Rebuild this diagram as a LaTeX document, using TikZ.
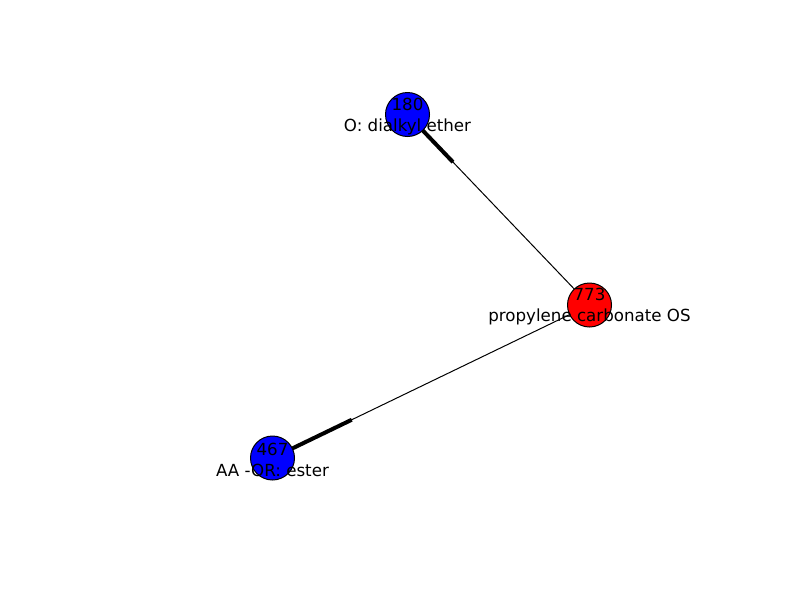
\documentclass[tikz,border=0pt]{standalone}
\usepackage{fontspec}
\setmainfont{DejaVu Sans}
\usetikzlibrary{calc}
\begin{document}
\begin{tikzpicture}[x=1pt,y=-1pt,
  vert/.style={circle,draw=black,line width=1pt,minimum size=44pt,inner sep=0pt},
  lbl/.style={align=center,inner sep=0pt,yshift=-2pt,font=\fontsize{16.67}{21}\selectfont},
  thinedge/.style={draw=black,line width=1pt},
  thickedge/.style={draw=black,line width=4pt}]
\useasboundingbox (0,0) rectangle (800,600);
\coordinate (c180) at (407.5,114.5);
\coordinate (c773) at (589.5,305);
\coordinate (c467) at (272.5,458);
\draw[thinedge] (c180) -- (c773);
\draw[thinedge] (c467) -- (c773);
\draw[thickedge] (c180) -- ($(c180)!0.25!(c773)$);
\draw[thickedge] (c467) -- ($(c467)!0.25!(c773)$);
\node[vert,fill=blue] (n180) at (c180) {};
\node[vert,fill=red] (n773) at (c773) {};
\node[vert,fill=blue] (n467) at (c467) {};
\node[lbl] (l180) at (c180) {180\\O: dialkyl ether};
\node[lbl] (l773) at (c773) {773\\propylene carbonate OS};
\node[lbl] (l467) at (c467) {467\\AA -OR: ester};
\end{tikzpicture}
\end{document}
